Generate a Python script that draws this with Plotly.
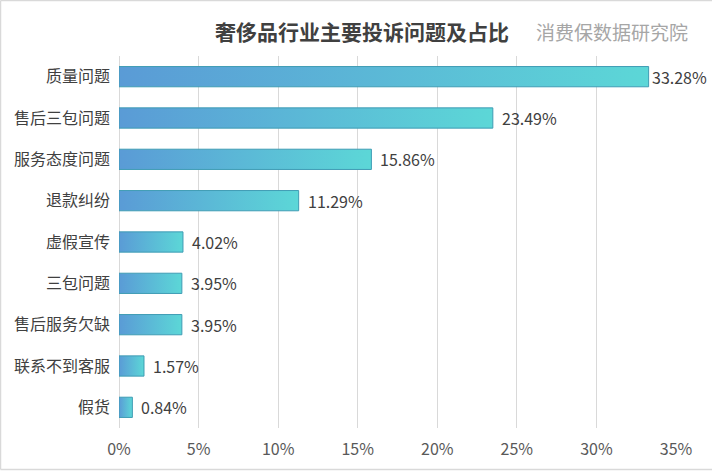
import plotly.graph_objects as go

categories = ["质量问题", "售后三包问题", "服务态度问题", "退款纠纷", "虚假宣传",
              "三包问题", "售后服务欠缺", "联系不到客服", "假货"]
values = [33.28, 23.49, 15.86, 11.29, 4.02, 3.95, 3.95, 1.57, 0.84]
tick_vals = [0, 5, 10, 15, 20, 25, 30, 35]
tick_text = ["0%", "5%", "10%", "15%", "20%", "25%", "30%", "35%"]

W, H = 712, 471
ML, MR, MT, MB = 119, 36, 56, 43
PW, PH = W - ML - MR, H - MT - MB

FONT = "Noto Sans CJK SC, Microsoft YaHei, sans-serif"
half = 0.245

fig = go.Figure()
for i, (c, v) in enumerate(zip(categories, values)):
    fig.add_trace(go.Scatter(
        x=[0, v, v, 0, 0],
        y=[i - half, i - half, i + half, i + half, i - half],
        mode="lines",
        fill="toself",
        fillgradient=dict(type="horizontal",
                          colorscale=[[0, "#5A9BD6"], [1, "#5CD7D7"]],
                          start=0, stop=v),
        line=dict(color="#3F9CB4", width=1),
        hoverinfo="skip",
        showlegend=False,
    ))

for i, v in enumerate(values):
    fig.add_annotation(
        x=v, y=i, text=f"{v:.2f}%", showarrow=False,
        xanchor="left", yanchor="middle",
        xshift=1 if i == 0 else 7,
        font=dict(family=FONT, size=16, color="#404040"),
    )

fig.add_annotation(
    x=(362 - ML) / PW, y=(H - 31 - MB) / PH, xref="paper", yref="paper",
    text="<b>奢侈品行业主要投诉问题及占比</b>", showarrow=False,
    xanchor="center", yanchor="middle",
    font=dict(family=FONT, size=21, color="#404040"),
)
fig.add_annotation(
    x=(612 - ML) / PW, y=(H - 31 - MB) / PH, xref="paper", yref="paper",
    text="消费保数据研究院", showarrow=False,
    xanchor="center", yanchor="middle",
    font=dict(family=FONT, size=19, color="#A6A6A6"),
)

# outer frame (left, top, bottom)
x_left = (0.5 - ML) / PW
x_right = (W - ML) / PW
y_top = (H - 0.5 - MB) / PH
y_bot = (0.5 + 1 - MB) / PH
for x0, y0, x1, y1 in [(x_left, y_bot, x_left, y_top),
                       (x_left, y_top, x_right, y_top),
                       (x_left, y_bot, x_right, y_bot)]:
    fig.add_shape(type="line", xref="paper", yref="paper",
                  x0=x0, y0=y0, x1=x1, y1=y1,
                  line=dict(color="#D9D9D9", width=1.5))

fig.update_xaxes(
    range=[0, 35], tickvals=tick_vals, ticktext=tick_text,
    showgrid=True, gridcolor="#D9D9D9", gridwidth=1,
    zeroline=True, zerolinecolor="#D9D9D9", zerolinewidth=1,
    showline=False, ticks="", ticklabelstandoff=10,
    tickfont=dict(family=FONT, size=16, color="#595959"),
    fixedrange=True,
)
fig.update_yaxes(
    range=[len(categories) - 0.5, -0.5],
    tickvals=list(range(len(categories))), ticktext=categories,
    showgrid=False, zeroline=False, showline=False, ticks="",
    ticklabelstandoff=8,
    tickfont=dict(family=FONT, size=16, color="#404040"),
    fixedrange=True,
)
fig.update_layout(
    width=W, height=H,
    margin=dict(l=ML, r=MR, t=MT, b=MB),
    paper_bgcolor="white", plot_bgcolor="white",
    showlegend=False,
)
fig.write_html("out.html")
